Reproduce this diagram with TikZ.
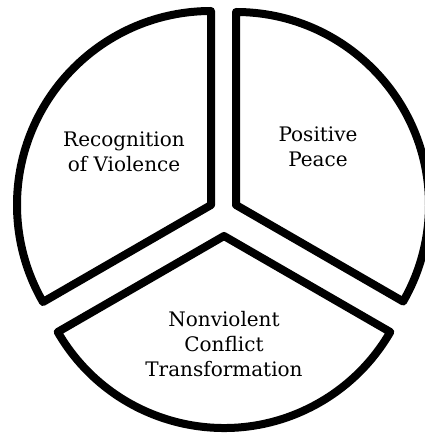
\documentclass[tikz,border=0pt]{standalone}
\usepackage{fontspec}
\setmainfont{DejaVu Serif}
\begin{document}
\begin{tikzpicture}[x=1pt,y=1pt,
  sector/.style={draw=black,fill=white,line width=8pt,line join=round},
  label/.style={align=center,anchor=base,inner sep=0pt,
    font=\fontsize{20}{25}\selectfont}]
  \useasboundingbox (0,0) rectangle (425,437);
  % apexes of the three exploded wedges
  \coordinate (ul) at (211,232);
  \coordinate (ur) at (236,232);
  \coordinate (bt) at (224,201);
  % upper-left wedge
  \draw[sector] (ul) -- ++(90:194) arc[start angle=90,end angle=210,radius=194] -- cycle;
  % upper-right wedge
  \draw[sector] (ur) -- ++(90:193) arc[start angle=90,end angle=-30,radius=193] -- cycle;
  % bottom wedge
  \draw[sector] (bt) -- ++(210:192) arc[start angle=210,end angle=330,radius=192] -- cycle;
  % wedge captions (base anchor sits on the last line)
  \node[label] (rec) at (124,265) {Recognition\\of Violence};
  \node[label] (pos) at (318,270) {Positive\\Peace};
  \node[label] (non) at (224,60) {Nonviolent\\Conflict\\Transformation};
\end{tikzpicture}
\end{document}
